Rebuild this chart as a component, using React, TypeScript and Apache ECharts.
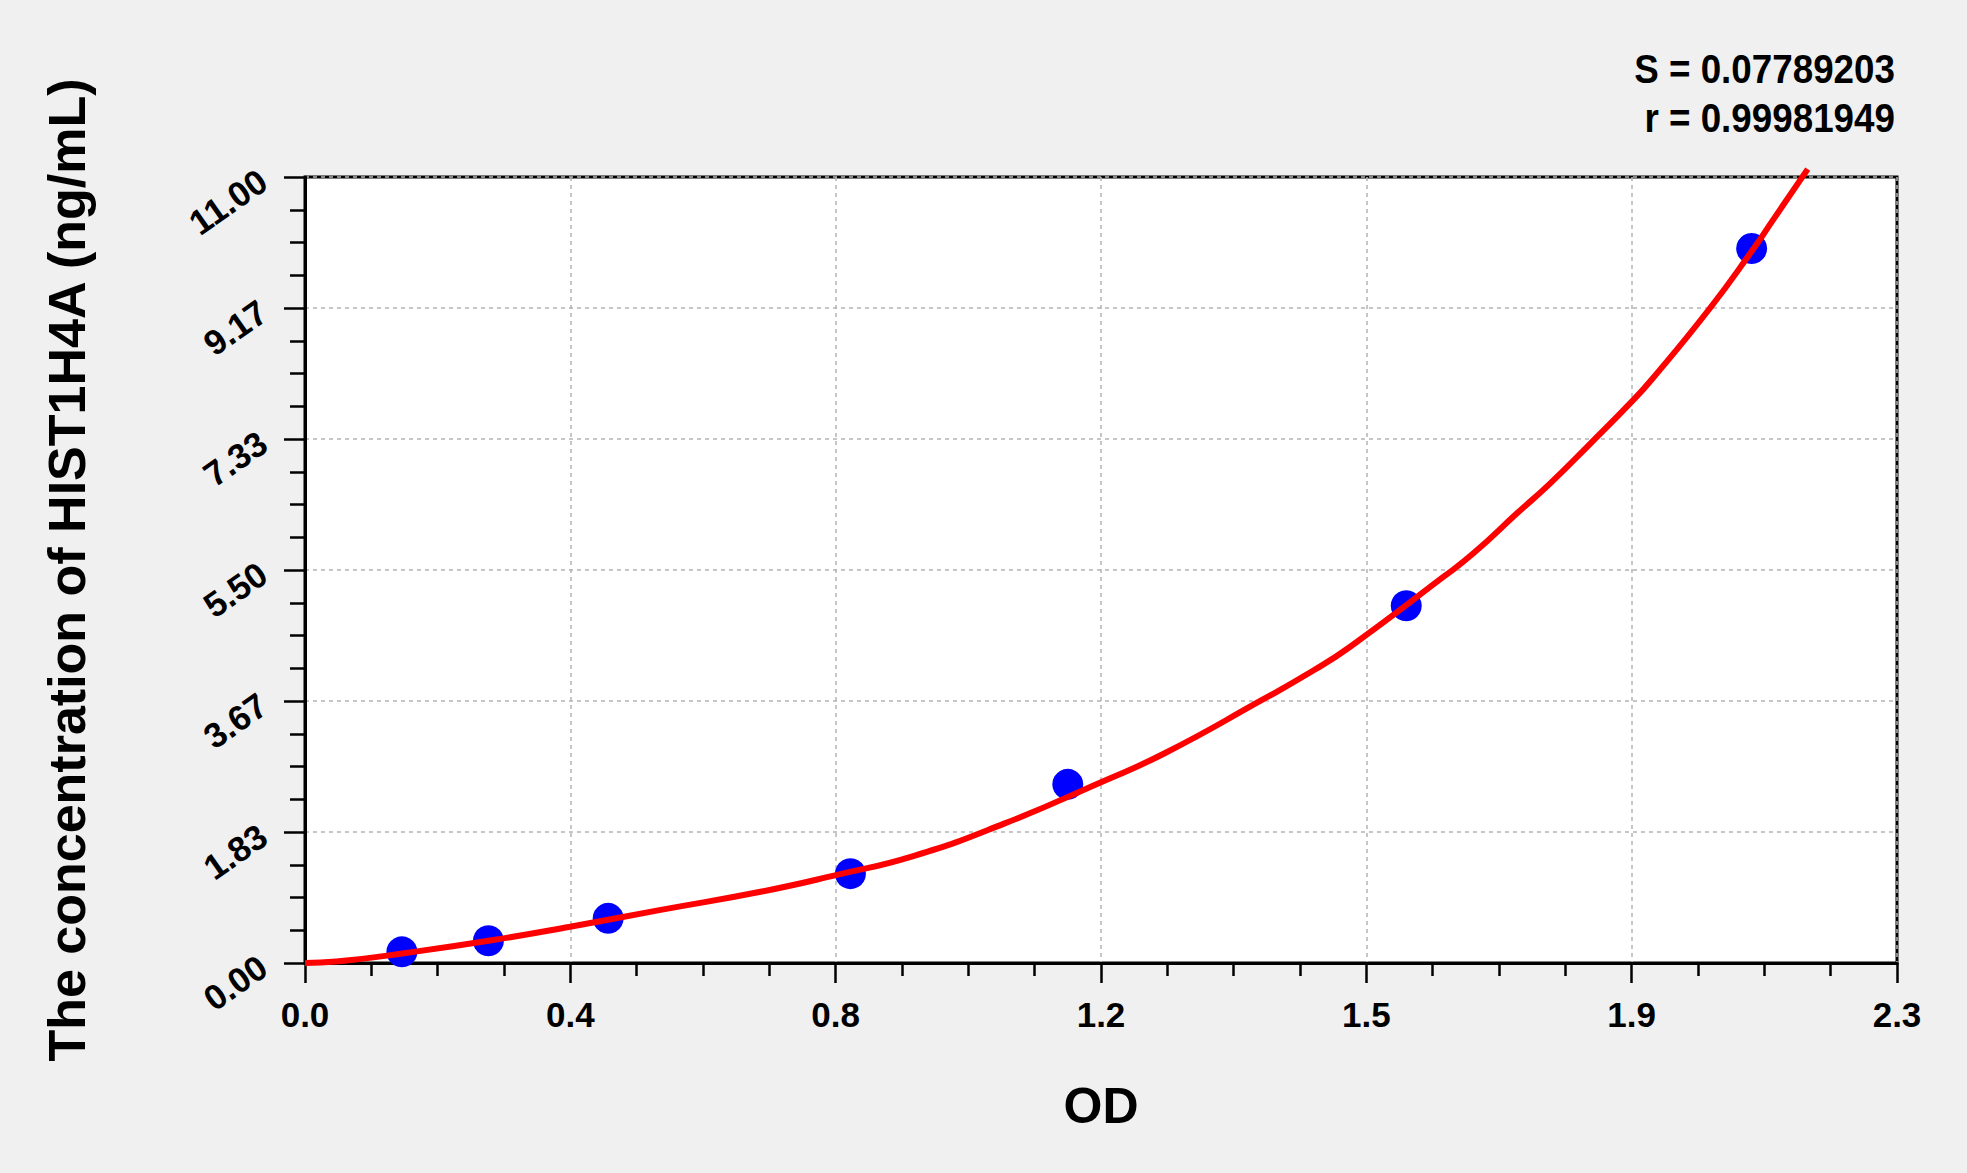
import React, { useEffect, useRef } from "react";
import * as echarts from "echarts";

// Standard points (OD, concentration)
const pointOD = [0.140, 0.265, 0.438, 0.788, 1.102, 1.591, 2.090];
const pointConc = [0.156, 0.312, 0.625, 1.25, 2.5, 5, 10];

// Fitted curve
const curveOD = [0, 0.045, 0.148, 0.272, 0.383, 0.512, 0.66, 0.767, 0.88, 1.01, 1.15, 1.242, 1.38, 1.458, 1.51, 1.645, 1.688, 1.751, 1.799, 1.857, 1.916, 1.946, 2.03, 2.09, 2.121, 2.171];
const curveConc = [0, 0.02, 0.144, 0.322, 0.508, 0.74, 1.0, 1.23, 1.5, 1.95, 2.53, 2.935, 3.667, 4.1, 4.426, 5.406, 5.733, 6.293, 6.713, 7.27, 7.85, 8.17, 9.167, 9.96, 10.4, 11.11];

const xTickLabels = ["0.0", "0.4", "0.8", "1.2", "1.5", "1.9", "2.3"];
const yTickLabels = ["0.00", "1.83", "3.67", "5.50", "7.33", "9.17", "11.00"];

const xMax = 2.3;
const yMax = 11;
const statS = "S = 0.07789203";
const statR = "r = 0.99981949";

const FONT = "'Liberation Sans', Arial, sans-serif";

export default function App() {
  const ref = useRef<HTMLDivElement>(null);
  useEffect(() => {
    document.body.style.margin = "0";
    document.body.style.background = "#f0f0f0";
    const chart = echarts.init(ref.current!, null, { renderer: "svg" });
    const xInt = xMax / (xTickLabels.length - 1);
    const yInt = yMax / (yTickLabels.length - 1);
    chart.setOption({
      animation: false,
      backgroundColor: "#f0f0f0",
      grid: {
        left: 305,
        right: 70,
        top: 177,
        bottom: 210,
        show: true,
        backgroundColor: "#ffffff",
        borderColor: "#000000",
        borderWidth: 3,
      },
      graphic: [
        {
          type: "text",
          x: 1895,
          y: 44,
          scaleX: 0.92,
          style: {
            text: statS + "\n" + statR,
            font: "bold 40px " + FONT,
            fill: "#000",
            textAlign: "right",
            lineHeight: 49,
          },
        },
      ],
      xAxis: {
        type: "value",
        min: 0,
        max: xMax,
        interval: xInt,
        name: "OD",
        nameLocation: "middle",
        nameGap: 118,
        nameTextStyle: { fontFamily: FONT, fontWeight: "bold", fontSize: 50, color: "#000" },
        axisLine: { show: true, onZero: false, lineStyle: { color: "#000", width: 3 } },
        axisTick: { show: true, inside: false, length: 20, lineStyle: { color: "#000", width: 2.5 } },
        minorTick: { show: true, splitNumber: 4, length: 13, lineStyle: { color: "#000", width: 2.5 } },
        axisLabel: {
          margin: 34,
          fontFamily: FONT,
          fontWeight: "bold",
          fontSize: 35,
          color: "#000",
          formatter: (v: number) => xTickLabels[Math.round(v / xInt)] ?? "",
        },
        splitLine: { show: true, lineStyle: { color: "#b4b4b4", width: 1.5, type: [4, 4] } },
      },
      yAxis: {
        type: "value",
        min: 0,
        max: yMax,
        interval: yInt,
        name: "The concentration of HIST1H4A (ng/mL)",
        nameLocation: "middle",
        nameRotate: 90,
        nameGap: 212,
        nameTextStyle: { fontFamily: FONT, fontWeight: "bold", fontSize: 52, color: "#000" },
        axisLine: { show: true, onZero: false, lineStyle: { color: "#000", width: 3 } },
        axisTick: { show: true, inside: false, length: 21, lineStyle: { color: "#000", width: 2.5 } },
        minorTick: { show: true, splitNumber: 4, length: 15, lineStyle: { color: "#000", width: 2.5 } },
        axisLabel: {
          margin: 42,
          rotate: 35,
          fontFamily: FONT,
          fontWeight: "bold",
          fontSize: 35,
          color: "#000",
          formatter: (v: number) => yTickLabels[Math.round(v / yInt)] ?? "",
        },
        splitLine: { show: true, lineStyle: { color: "#b4b4b4", width: 1.5, type: [4, 4] } },
      },
      series: [
        {
          type: "scatter",
          data: pointOD.map((x, i) => [x, pointConc[i]]),
          symbol: "circle",
          symbolSize: 31,
          itemStyle: { color: "#0000ff", opacity: 1 },
          z: 2,
        },
        {
          type: "line",
          data: curveOD.map((x, i) => [x, curveConc[i]]),
          smooth: 0.5,
          showSymbol: false,
          clip: false,
          lineStyle: { color: "#ff0000", width: 6 },
          z: 3,
        },
      ],
    });
    return () => chart.dispose();
  }, []);
  return <div ref={ref} style={{ width: 1967, height: 1173 }} />;
}
